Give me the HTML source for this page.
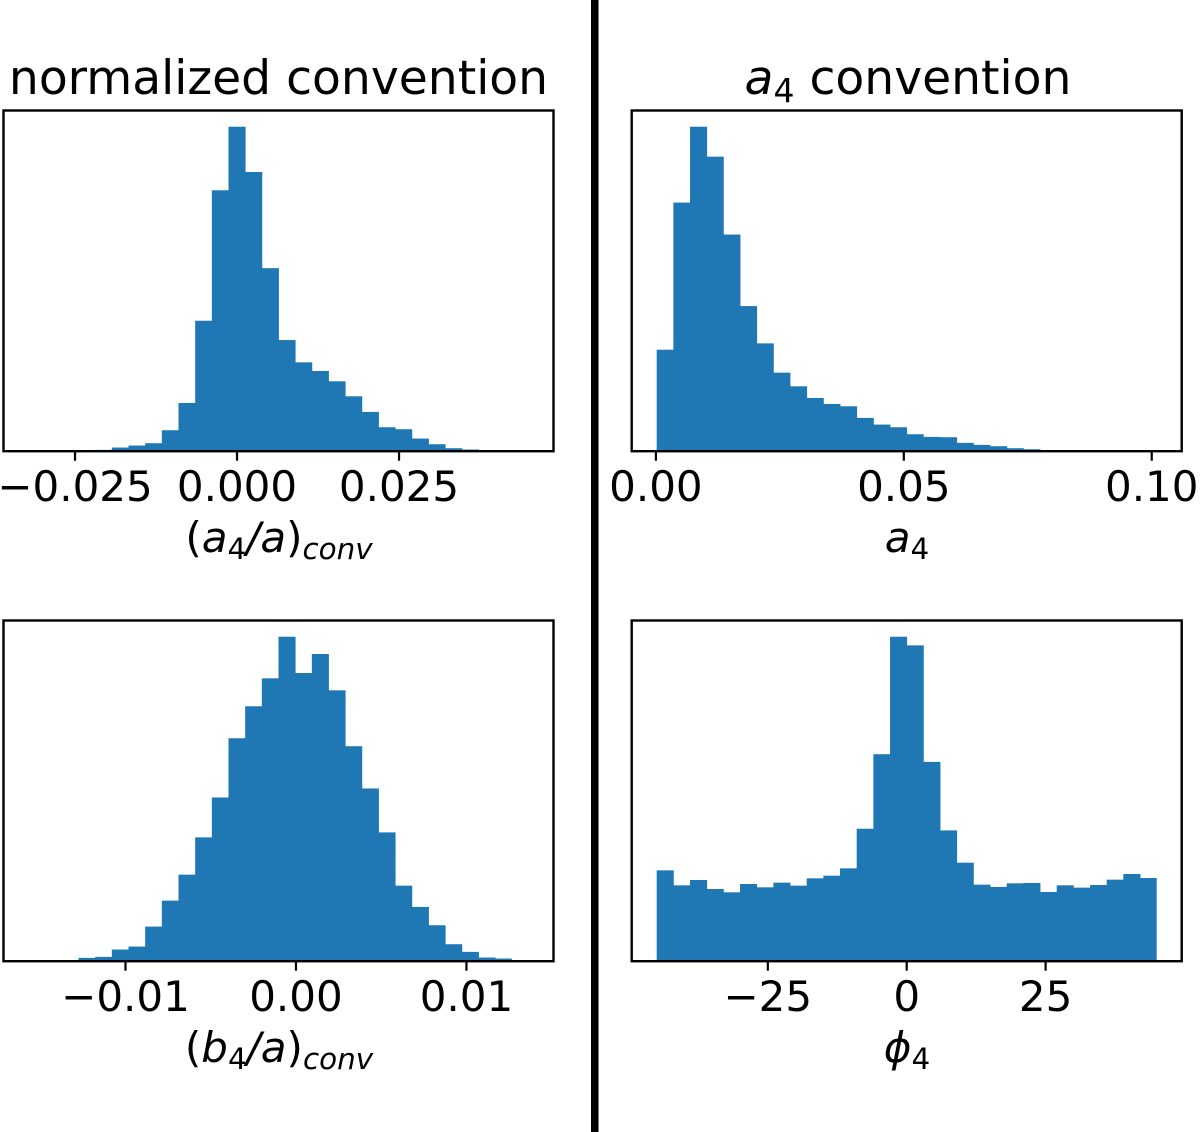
<!DOCTYPE html>
<html lang="en">
<head>
<meta charset="utf-8">
<title>Normalized and a4 convention histograms</title>
<style>
  html, body { margin: 0; padding: 0; background: #fff; }
  svg { display: block; }
  text { font-family: "DejaVu Sans", "Liberation Sans", sans-serif; fill: #000; }
  .lab { font-size: 42px; }
  .ttl { font-size: 47.2px; }
  .it { font-style: italic; }
  .sub { font-size: 29.4px; }
  .ttl .sub { font-size: 33px; }
</style>
</head>
<body>
<svg id="figure" xmlns="http://www.w3.org/2000/svg" width="1200" height="1132" viewBox="0 0 1200 1132">
  <rect x="0" y="0" width="1200" height="1132" fill="#fff"/>
  <rect x="591" y="0" width="7.5" height="1132" fill="#000"/>

  <text class="ttl" x="278.5" y="94" text-anchor="middle">normalized convention</text>
  <text class="ttl" x="908" y="94" text-anchor="middle"><tspan class="it">a</tspan><tspan class="sub" dy="8">4</tspan><tspan dy="-8"> convention</tspan></text>

  <g id="panel-a"></g>
  <g id="panel-b"></g>
  <g id="panel-c"></g>
  <g id="panel-d"></g>

  <text class="lab" x="279" y="552" text-anchor="middle">(<tspan class="it">a</tspan><tspan class="sub" dy="7">4</tspan><tspan class="it" dy="-7">/a</tspan>)<tspan class="sub it" dy="7">conv</tspan></text>
  <text class="lab" x="907" y="552" text-anchor="middle"><tspan class="it">a</tspan><tspan class="sub" dy="7">4</tspan></text>
  <text class="lab" x="279" y="1062" text-anchor="middle">(<tspan class="it">b</tspan><tspan class="sub" dy="7">4</tspan><tspan class="it" dy="-7">/a</tspan>)<tspan class="sub it" dy="7">conv</tspan></text>
  <text class="lab" x="907" y="1062" text-anchor="middle"><tspan class="it">ϕ</tspan><tspan class="sub" dy="7">4</tspan></text>
</svg>

<script>
// Histogram counts per bin (tallest bin is about 975 units).
var a4OverACounts = [0, 0, 0, 0, 4, 11, 17, 24, 63, 145, 392, 784, 975, 839, 550, 334, 267, 241, 210, 165, 118, 72, 66, 38, 21, 9, 5, 1, 1, 0];
var a4Counts = [305, 747, 975, 885, 651, 436, 324, 236, 195, 160, 142, 135, 100, 80, 72, 51, 43, 42, 25, 19, 15, 9, 6, 2, 1, 1, 1, 0, 0, 1];
var b4OverACounts = [0, 0, 0, 10, 13, 35, 44, 104, 182, 260, 372, 492, 670, 766, 850, 975, 866, 923, 814, 646, 519, 387, 227, 163, 108, 51, 28, 11, 8, 0];
var phi4Counts = [273, 228, 244, 217, 207, 232, 222, 236, 227, 249, 257, 279, 398, 622, 975, 949, 599, 393, 296, 230, 223, 234, 235, 208, 228, 221, 229, 245, 262, 250];

// Data range covered by the bins of each histogram.
var a4OverARange = [-0.03218, 0.04498];
var a4Range = [0.00016, 0.10100];
var b4OverARange = [-0.01569, 0.01364];
var phi4Range = [-45, 45];

// Tick values and their printed labels.
var a4OverATicks = [-0.025, 0, 0.025];
var a4OverATickLabels = ['\u22120.025', '0.000', '0.025'];
var a4Ticks = [0, 0.05, 0.10];
var a4TickLabels = ['0.00', '0.05', '0.10'];
var b4OverATicks = [-0.01, 0, 0.01];
var b4OverATickLabels = ['\u22120.01', '0.00', '0.01'];
var phi4Ticks = [-25, 0, 25];
var phi4TickLabels = ['\u221225', '0', '25'];

var SVG_NS = 'http://www.w3.org/2000/svg';

function make(parent, tag, attrs) {
  var el = document.createElementNS(SVG_NS, tag);
  for (var k in attrs) { el.setAttribute(k, attrs[k]); }
  parent.appendChild(el);
  return el;
}

function drawPanel(groupId, left, top, counts, range, ticks, tickLabels) {
  var width = 550, height = 340.7;
  var bottom = top + height;
  var group = document.getElementById(groupId);
  var maxCount = Math.max.apply(null, counts);

  // Axis functions: matplotlib-style 5% margins on x, 5% headroom on y.
  function xScale(v) {
    var inner = width / 1.1;
    return left + (width - inner) / 2 + (v - range[0]) / (range[1] - range[0]) * inner;
  }
  function yScale(v) {
    return bottom - v / (maxCount * 1.05) * height;
  }

  var binWidth = (range[1] - range[0]) / counts.length;
  counts.forEach(function (count, i) {
    if (count <= 0) { return; }
    var x0 = xScale(range[0] + i * binWidth);
    var x1 = xScale(range[0] + (i + 1) * binWidth);
    var bar = make(group, 'rect', {
      x: x0, y: yScale(count),
      width: x1 - x0 + (i < counts.length - 1 && counts[i + 1] > 0 ? 0.4 : 0),
      height: bottom - yScale(count),
      fill: '#1f77b4'
    });
    
    
  });

  var frame = make(group, 'rect', {
    x: left, y: top, width: width, height: height,
    fill: 'none', stroke: '#000', 'stroke-width': 2.4
  });
  
  

  ticks.forEach(function (t, i) {
    var px = xScale(t);
    var mark = make(group, 'line', {
      x1: px, x2: px, y1: bottom, y2: bottom + 9.5,
      stroke: '#000', 'stroke-width': 2.2
    });
    
    

    var label = make(group, 'text', {
      x: px, y: bottom + 50, 'text-anchor': 'middle', 'class': 'lab'
    });
    label.textContent = tickLabels[i];
    
    
  });
}

drawPanel('panel-a', 3.5, 110.5, a4OverACounts, a4OverARange, a4OverATicks, a4OverATickLabels);
drawPanel('panel-b', 631.7, 110.5, a4Counts, a4Range, a4Ticks, a4TickLabels);
drawPanel('panel-c', 3.5, 620.5, b4OverACounts, b4OverARange, b4OverATicks, b4OverATickLabels);
drawPanel('panel-d', 631.7, 620.5, phi4Counts, phi4Range, phi4Ticks, phi4TickLabels);
</script>
</body>
</html>
